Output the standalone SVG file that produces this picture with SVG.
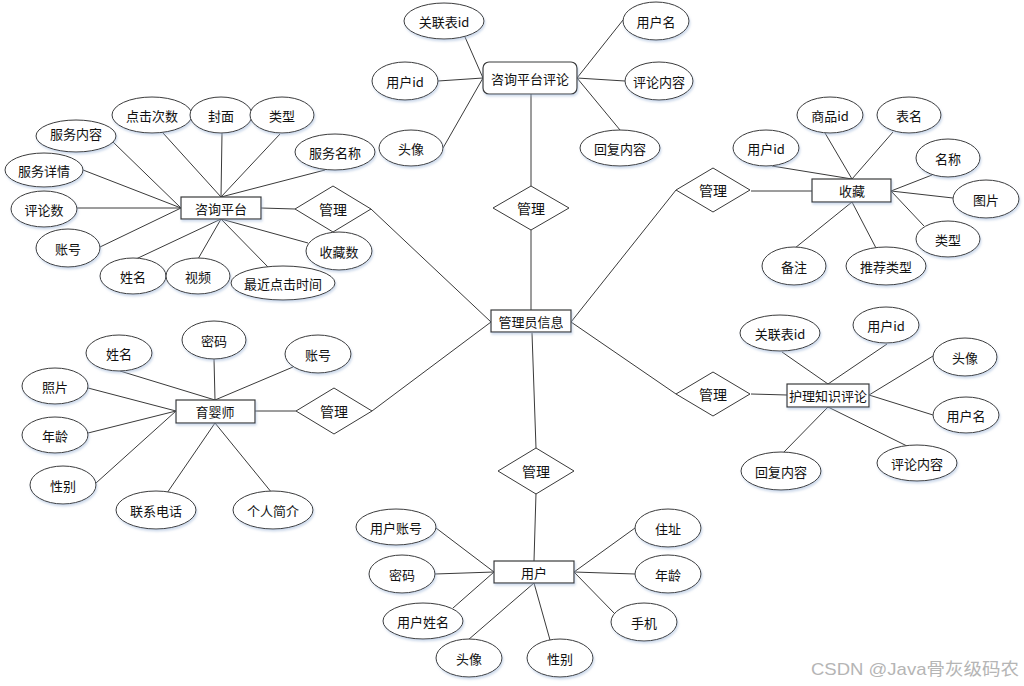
<svg xmlns="http://www.w3.org/2000/svg" width="1024" height="686" viewBox="0 0 1024 686">
<defs>
<filter id="sh" x="-20%" y="-20%" width="140%" height="150%">
<feDropShadow dx="1" dy="2" stdDeviation="1.2" flood-color="#9fb6d8" flood-opacity="0.5"/>
</filter>
</defs>
<style>
.e{fill:#fff;stroke:#3a3a3a;stroke-width:1;filter:url(#sh)}
.r{fill:#fff;stroke:#3a3a3a;stroke-width:1.2;filter:url(#sh)}
.d{fill:#fff;stroke:#3a3a3a;stroke-width:1}
.l{stroke:#3a3a3a;stroke-width:1;fill:none}
text{font-family:"Noto Sans CJK SC","Noto Sans",sans-serif;font-size:13px;fill:#111;text-anchor:middle;dominant-baseline:central}
.t{font-size:14px}
.wm{font-family:"Liberation Sans","Noto Sans CJK SC",sans-serif;font-size:17px;fill:#b5b5b5;text-anchor:start;dominant-baseline:alphabetic}
</style>
<rect width="1024" height="686" fill="#fff"/>
<g id="connectors">
<line class="l" x1="221" y1="197" x2="163" y2="133"/>
<line class="l" x1="221" y1="197" x2="222" y2="133"/>
<line class="l" x1="221" y1="197" x2="280" y2="134"/>
<line class="l" x1="221" y1="197" x2="325" y2="170"/>
<line class="l" x1="181" y1="208" x2="113" y2="142"/>
<line class="l" x1="181" y1="208" x2="83" y2="170"/>
<line class="l" x1="181" y1="208" x2="77" y2="208"/>
<line class="l" x1="181" y1="208" x2="100" y2="247"/>
<line class="l" x1="221" y1="219" x2="136" y2="259"/>
<line class="l" x1="221" y1="219" x2="198" y2="259"/>
<line class="l" x1="221" y1="219" x2="268" y2="267"/>
<line class="l" x1="221" y1="219" x2="308" y2="243"/>
<line class="l" x1="261" y1="208" x2="295" y2="209"/>
<line class="l" x1="371" y1="209" x2="491" y2="322"/>
<line class="l" x1="483" y1="78" x2="465" y2="37"/>
<line class="l" x1="483" y1="78" x2="438" y2="81"/>
<line class="l" x1="483" y1="78" x2="443" y2="148"/>
<line class="l" x1="577" y1="78" x2="623" y2="20"/>
<line class="l" x1="577" y1="78" x2="625" y2="81"/>
<line class="l" x1="577" y1="78" x2="620" y2="130"/>
<line class="l" x1="531" y1="94" x2="531" y2="186"/>
<line class="l" x1="531" y1="230" x2="531" y2="310"/>
<line class="l" x1="852" y1="179" x2="825" y2="133"/>
<line class="l" x1="852" y1="179" x2="893" y2="132"/>
<line class="l" x1="852" y1="179" x2="772" y2="166"/>
<line class="l" x1="891" y1="191" x2="932" y2="175"/>
<line class="l" x1="891" y1="191" x2="953" y2="198"/>
<line class="l" x1="891" y1="191" x2="924" y2="226"/>
<line class="l" x1="852" y1="202" x2="795" y2="248"/>
<line class="l" x1="852" y1="202" x2="876" y2="248"/>
<line class="l" x1="751" y1="191" x2="812" y2="191"/>
<line class="l" x1="676" y1="190" x2="571" y2="322"/>
<line class="l" x1="215" y1="400" x2="120" y2="371"/>
<line class="l" x1="215" y1="400" x2="214" y2="359"/>
<line class="l" x1="215" y1="400" x2="293" y2="367"/>
<line class="l" x1="176" y1="411" x2="88" y2="388"/>
<line class="l" x1="176" y1="411" x2="88" y2="433"/>
<line class="l" x1="176" y1="411" x2="96" y2="483"/>
<line class="l" x1="215" y1="423" x2="167" y2="493"/>
<line class="l" x1="215" y1="423" x2="272" y2="493"/>
<line class="l" x1="255" y1="411" x2="296" y2="411"/>
<line class="l" x1="372" y1="411" x2="491" y2="322"/>
<line class="l" x1="828" y1="384" x2="782" y2="352"/>
<line class="l" x1="828" y1="384" x2="887" y2="344"/>
<line class="l" x1="869" y1="395" x2="933" y2="356"/>
<line class="l" x1="869" y1="395" x2="933" y2="415"/>
<line class="l" x1="828" y1="407" x2="907" y2="446"/>
<line class="l" x1="828" y1="407" x2="783" y2="453"/>
<line class="l" x1="751" y1="394" x2="787" y2="395"/>
<line class="l" x1="676" y1="394" x2="571" y2="322"/>
<line class="l" x1="532" y1="333" x2="536" y2="448"/>
<line class="l" x1="536" y1="493" x2="534" y2="561"/>
<line class="l" x1="494" y1="572" x2="436" y2="528"/>
<line class="l" x1="494" y1="572" x2="435" y2="574"/>
<line class="l" x1="494" y1="572" x2="453" y2="608"/>
<line class="l" x1="534" y1="583" x2="468" y2="640"/>
<line class="l" x1="534" y1="583" x2="550" y2="640"/>
<line class="l" x1="574" y1="572" x2="635" y2="528"/>
<line class="l" x1="574" y1="572" x2="635" y2="574"/>
<line class="l" x1="574" y1="572" x2="615" y2="614"/>
</g>

<g id="admin"><rect class="r" x="491" y="310" width="80" height="22"/><text x="531" y="321">管理员信息</text></g>

<g id="zxpt"><rect class="r" x="181" y="197" width="80" height="22"/><text x="221" y="208">咨询平台</text></g>
<g id="zxpt-djcs"><ellipse class="e" cx="152" cy="115" rx="40" ry="18"/><text x="152" y="115">点击次数</text></g>
<g id="zxpt-fm"><ellipse class="e" cx="221" cy="115" rx="31" ry="18"/><text x="221" y="115">封面</text></g>
<g id="zxpt-lx"><ellipse class="e" cx="282" cy="115" rx="32" ry="18"/><text x="282" y="115">类型</text></g>
<g id="zxpt-fwnr"><ellipse class="e" cx="76" cy="136" rx="40" ry="16"/><text x="76" y="133">服务内容</text></g>
<g id="zxpt-fwxq"><ellipse class="e" cx="44" cy="170" rx="39" ry="17"/><text x="44" y="170">服务详情</text></g>
<g id="zxpt-pls"><ellipse class="e" cx="44" cy="209" rx="33" ry="18"/><text x="44" y="209">评论数</text></g>
<g id="zxpt-zh"><ellipse class="e" cx="68" cy="248" rx="32" ry="19"/><text x="68" y="248">账号</text></g>
<g id="zxpt-xm"><ellipse class="e" cx="133" cy="276" rx="33" ry="18"/><text x="133" y="276">姓名</text></g>
<g id="zxpt-sp"><ellipse class="e" cx="198" cy="276" rx="32" ry="18"/><text x="198" y="276">视频</text></g>
<g id="zxpt-zjdj"><ellipse class="e" cx="283" cy="283" rx="52" ry="17"/><text x="283" y="283">最近点击时间</text></g>
<g id="zxpt-fwmc"><ellipse class="e" cx="335" cy="152" rx="40" ry="18"/><text x="335" y="152">服务名称</text></g>
<g id="zxpt-scs"><ellipse class="e" cx="339" cy="251" rx="33" ry="19"/><text x="339" y="251">收藏数</text></g>
<g id="gl1"><polygon class="d" points="295,209 333,186 371,209 333,232"/><text class="t" x="333" y="209">管理</text></g>

<g id="zxptpl"><rect class="r" x="483" y="62" width="94" height="32" rx="6"/><text x="530" y="78">咨询平台评论</text></g>
<g id="pl-glb"><ellipse class="e" cx="444" cy="21" rx="40" ry="18"/><text x="444" y="21">关联表id</text></g>
<g id="pl-yhid"><ellipse class="e" cx="405" cy="81" rx="33" ry="19"/><text x="405" y="81">用户id</text></g>
<g id="pl-tx"><ellipse class="e" cx="411" cy="148" rx="32" ry="18"/><text x="411" y="148">头像</text></g>
<g id="pl-yhm"><ellipse class="e" cx="656" cy="21" rx="33" ry="19"/><text x="656" y="21">用户名</text></g>
<g id="pl-plnr"><ellipse class="e" cx="659" cy="81" rx="34" ry="19"/><text x="659" y="81">评论内容</text></g>
<g id="pl-hfnr"><ellipse class="e" cx="620" cy="148" rx="40" ry="18"/><text x="620" y="148">回复内容</text></g>
<g id="gl2"><polygon class="d" points="493,208 531,186 569,208 531,230"/><text class="t" x="531" y="208">管理</text></g>

<g id="sc"><rect class="r" x="812" y="179" width="79" height="23"/><text x="852" y="190">收藏</text></g>
<g id="sc-spid"><ellipse class="e" cx="830" cy="115" rx="33" ry="18"/><text x="830" y="115">商品id</text></g>
<g id="sc-bm"><ellipse class="e" cx="909" cy="115" rx="32" ry="18"/><text x="909" y="115">表名</text></g>
<g id="sc-yhid"><ellipse class="e" cx="766" cy="148" rx="33" ry="18"/><text x="766" y="148">用户id</text></g>
<g id="sc-mc"><ellipse class="e" cx="948" cy="158" rx="32" ry="19"/><text x="948" y="158">名称</text></g>
<g id="sc-tp"><ellipse class="e" cx="986" cy="199" rx="33" ry="19"/><text x="986" y="199">图片</text></g>
<g id="sc-lx"><ellipse class="e" cx="948" cy="239" rx="32" ry="18"/><text x="948" y="239">类型</text></g>
<g id="sc-bz"><ellipse class="e" cx="794" cy="266" rx="32" ry="19"/><text x="794" y="266">备注</text></g>
<g id="sc-tjlx"><ellipse class="e" cx="886" cy="266" rx="40" ry="19"/><text x="886" y="266">推荐类型</text></g>
<g id="gl3"><polygon class="d" points="676,190 713,168 750,190 713,212"/><text class="t" x="713" y="190">管理</text></g>

<g id="yys"><rect class="r" x="176" y="400" width="79" height="23"/><text x="215" y="411">育婴师</text></g>
<g id="yys-xm"><ellipse class="e" cx="119" cy="353" rx="33" ry="18"/><text x="119" y="353">姓名</text></g>
<g id="yys-mm"><ellipse class="e" cx="214" cy="340" rx="32" ry="19"/><text x="214" y="340">密码</text></g>
<g id="yys-zh"><ellipse class="e" cx="318" cy="354" rx="33" ry="19"/><text x="318" y="354">账号</text></g>
<g id="yys-zp"><ellipse class="e" cx="55" cy="386" rx="33" ry="18"/><text x="55" y="386">照片</text></g>
<g id="yys-nl"><ellipse class="e" cx="55" cy="435" rx="33" ry="18"/><text x="55" y="435">年龄</text></g>
<g id="yys-xb"><ellipse class="e" cx="63" cy="485" rx="33" ry="19"/><text x="63" y="485">性别</text></g>
<g id="yys-lxdh"><ellipse class="e" cx="156" cy="510" rx="40" ry="19"/><text x="156" y="510">联系电话</text></g>
<g id="yys-grjj"><ellipse class="e" cx="273" cy="510" rx="40" ry="19"/><text x="273" y="510">个人简介</text></g>
<g id="gl4"><polygon class="d" points="296,411 334,388 372,411 334,434"/><text class="t" x="334" y="411">管理</text></g>

<g id="hlzs"><rect class="r" x="787" y="384" width="82" height="23"/><text x="828" y="395">护理知识评论</text></g>
<g id="hl-glb"><ellipse class="e" cx="780" cy="333" rx="40" ry="18"/><text x="780" y="333">关联表id</text></g>
<g id="hl-yhid"><ellipse class="e" cx="886" cy="325" rx="33" ry="18"/><text x="886" y="325">用户id</text></g>
<g id="hl-tx"><ellipse class="e" cx="965" cy="357" rx="32" ry="19"/><text x="965" y="357">头像</text></g>
<g id="hl-yhm"><ellipse class="e" cx="966" cy="415" rx="33" ry="18"/><text x="966" y="415">用户名</text></g>
<g id="hl-plnr"><ellipse class="e" cx="917" cy="463" rx="40" ry="18"/><text x="917" y="463">评论内容</text></g>
<g id="hl-hfnr"><ellipse class="e" cx="781" cy="471" rx="40" ry="19"/><text x="781" y="471">回复内容</text></g>
<g id="gl5"><polygon class="d" points="676,394 713,372 750,394 713,416"/><text class="t" x="713" y="394">管理</text></g>

<g id="yh"><rect class="r" x="494" y="561" width="80" height="22"/><text x="534" y="572">用户</text></g>
<g id="yh-zh"><ellipse class="e" cx="396" cy="527" rx="40" ry="18"/><text x="396" y="527">用户账号</text></g>
<g id="yh-mm"><ellipse class="e" cx="402" cy="574" rx="33" ry="19"/><text x="402" y="574">密码</text></g>
<g id="yh-xm"><ellipse class="e" cx="423" cy="621" rx="40" ry="18"/><text x="423" y="621">用户姓名</text></g>
<g id="yh-tx"><ellipse class="e" cx="469" cy="658" rx="33" ry="19"/><text x="469" y="658">头像</text></g>
<g id="yh-xb"><ellipse class="e" cx="560" cy="658" rx="33" ry="19"/><text x="560" y="658">性别</text></g>
<g id="yh-zz"><ellipse class="e" cx="668" cy="528" rx="33" ry="19"/><text x="668" y="528">住址</text></g>
<g id="yh-nl"><ellipse class="e" cx="668" cy="574" rx="33" ry="19"/><text x="668" y="574">年龄</text></g>
<g id="yh-sj"><ellipse class="e" cx="644" cy="622" rx="33" ry="19"/><text x="644" y="622">手机</text></g>
<g id="gl6"><polygon class="d" points="498,471 536,448 574,471 536,494"/><text class="t" x="536" y="471">管理</text></g>

<text class="wm" x="811" y="675" textLength="208" lengthAdjust="spacingAndGlyphs">CSDN @Java骨灰级码农</text>
</svg>
